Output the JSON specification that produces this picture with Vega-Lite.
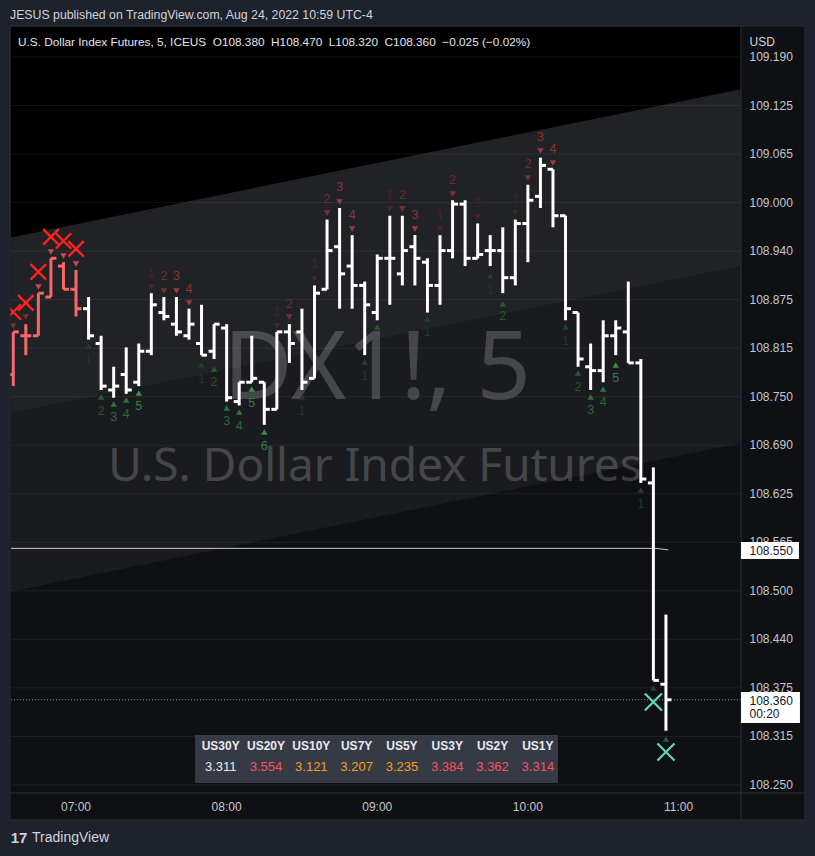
{
"$schema":"https://vega.github.io/schema/vega-lite/v6.json",
"width":730,"height":766,
"autosize":{"type":"none"},
"padding":{"left":11,"top":27,"right":74,"bottom":63},
"background":"#0f1014",
"config":{"view":{"stroke":null},"font":"Liberation Sans"},
"datasets":{
"bars":[
{"t":395,"o":108.780,"h":108.835,"l":108.765,"c":108.835,"s":"sell"},
{"t":400,"o":108.830,"h":108.845,"l":108.805,"c":108.830,"s":"sell"},
{"t":405,"o":108.830,"h":108.885,"l":108.830,"c":108.885,"s":"sell"},
{"t":410,"o":108.880,"h":108.930,"l":108.880,"c":108.930,"s":"sell"},
{"t":415,"o":108.920,"h":108.925,"l":108.890,"c":108.890,"s":"sell"},
{"t":420,"o":108.890,"h":108.915,"l":108.855,"c":108.865,"s":"sell"},
{"t":425,"o":108.865,"h":108.880,"l":108.825,"c":108.830,"s":"none"},
{"t":430,"o":108.820,"h":108.830,"l":108.760,"c":108.765,"s":"none"},
{"t":435,"o":108.760,"h":108.790,"l":108.750,"c":108.765,"s":"none"},
{"t":440,"o":108.780,"h":108.815,"l":108.755,"c":108.760,"s":"none"},
{"t":445,"o":108.770,"h":108.820,"l":108.765,"c":108.810,"s":"none"},
{"t":450,"o":108.810,"h":108.885,"l":108.805,"c":108.870,"s":"none"},
{"t":455,"o":108.860,"h":108.880,"l":108.850,"c":108.855,"s":"none"},
{"t":460,"o":108.845,"h":108.880,"l":108.830,"c":108.835,"s":"none"},
{"t":465,"o":108.830,"h":108.865,"l":108.825,"c":108.845,"s":"none"},
{"t":470,"o":108.820,"h":108.870,"l":108.805,"c":108.805,"s":"none"},
{"t":475,"o":108.810,"h":108.845,"l":108.800,"c":108.845,"s":"none"},
{"t":480,"o":108.840,"h":108.845,"l":108.745,"c":108.750,"s":"none"},
{"t":485,"o":108.745,"h":108.770,"l":108.740,"c":108.770,"s":"none"},
{"t":490,"o":108.770,"h":108.830,"l":108.770,"c":108.775,"s":"none"},
{"t":495,"o":108.770,"h":108.770,"l":108.715,"c":108.735,"s":"none"},
{"t":500,"o":108.735,"h":108.835,"l":108.735,"c":108.835,"s":"none"},
{"t":505,"o":108.835,"h":108.845,"l":108.795,"c":108.820,"s":"none"},
{"t":510,"o":108.835,"h":108.865,"l":108.760,"c":108.770,"s":"none"},
{"t":515,"o":108.775,"h":108.895,"l":108.775,"c":108.885,"s":"none"},
{"t":520,"o":108.890,"h":108.980,"l":108.890,"c":108.940,"s":"none"},
{"t":525,"o":108.945,"h":108.995,"l":108.865,"c":108.910,"s":"none"},
{"t":530,"o":108.920,"h":108.960,"l":108.865,"c":108.895,"s":"none"},
{"t":535,"o":108.895,"h":108.900,"l":108.805,"c":108.870,"s":"none"},
{"t":540,"o":108.860,"h":108.935,"l":108.850,"c":108.930,"s":"none"},
{"t":545,"o":108.930,"h":108.985,"l":108.870,"c":108.930,"s":"none"},
{"t":550,"o":108.910,"h":108.985,"l":108.895,"c":108.940,"s":"none"},
{"t":555,"o":108.945,"h":108.960,"l":108.895,"c":108.930,"s":"none"},
{"t":560,"o":108.925,"h":108.930,"l":108.860,"c":108.895,"s":"none"},
{"t":565,"o":108.895,"h":108.960,"l":108.870,"c":108.940,"s":"none"},
{"t":570,"o":108.940,"h":109.005,"l":108.930,"c":109.000,"s":"none"},
{"t":575,"o":109.000,"h":109.005,"l":108.920,"c":108.930,"s":"none"},
{"t":580,"o":108.930,"h":108.975,"l":108.930,"c":108.935,"s":"none"},
{"t":585,"o":108.940,"h":108.960,"l":108.920,"c":108.940,"s":"none"},
{"t":590,"o":108.940,"h":108.970,"l":108.885,"c":108.905,"s":"none"},
{"t":595,"o":108.905,"h":108.980,"l":108.895,"c":108.975,"s":"none"},
{"t":600,"o":108.975,"h":109.025,"l":108.925,"c":109.005,"s":"none"},
{"t":605,"o":109.010,"h":109.060,"l":108.995,"c":109.050,"s":"none"},
{"t":610,"o":109.045,"h":109.045,"l":108.970,"c":108.985,"s":"none"},
{"t":615,"o":108.985,"h":108.985,"l":108.850,"c":108.865,"s":"none"},
{"t":620,"o":108.860,"h":108.860,"l":108.790,"c":108.800,"s":"none"},
{"t":625,"o":108.790,"h":108.820,"l":108.760,"c":108.785,"s":"none"},
{"t":630,"o":108.785,"h":108.850,"l":108.770,"c":108.830,"s":"none"},
{"t":635,"o":108.830,"h":108.850,"l":108.805,"c":108.840,"s":"none"},
{"t":640,"o":108.835,"h":108.900,"l":108.795,"c":108.795,"s":"none"},
{"t":645,"o":108.795,"h":108.800,"l":108.640,"c":108.645,"s":"none"},
{"t":650,"o":108.640,"h":108.660,"l":108.385,"c":108.385,"s":"none"},
{"t":655,"o":108.380,"h":108.470,"l":108.320,"c":108.360,"s":"none"}
],
"chan":[
{"t":394.1,"up":108.957,"mid":108.7298,"lo":108.4999},
{"t":684.9,"up":109.1484,"mid":108.9199,"lo":108.6913}
],
"grid":[{"g":109.19,"lab":"109.190"},{"g":109.12733,"lab":"109.125"},{"g":109.06467,"lab":"109.065"},{"g":109.002,"lab":"109.000"},{"g":108.93933,"lab":"108.940"},{"g":108.87667,"lab":"108.875"},{"g":108.814,"lab":"108.815"},{"g":108.75133,"lab":"108.750"},{"g":108.68867,"lab":"108.690"},{"g":108.626,"lab":"108.625"},{"g":108.56333,"lab":"108.565"},{"g":108.50067,"lab":"108.500"},{"g":108.438,"lab":"108.440"},{"g":108.37533,"lab":"108.375"},{"g":108.31267,"lab":"108.315"},{"g":108.25,"lab":"108.250"}],
"xlab":[{"t":420,"lab":"07:00"},{"t":480,"lab":"08:00"},{"t":540,"lab":"09:00"},{"t":600,"lab":"10:00"},{"t":660,"lab":"11:00"}],
"sell":[
{"t":395,"tp":108.8427,"n":2},
{"t":400,"tp":108.8543,"n":2},
{"t":405,"tp":108.8930,"n":9},
{"t":410,"tp":108.9382,"n":9},
{"t":415,"tp":108.9330,"n":9},
{"t":420,"tp":108.9227,"n":9},
{"t":450,"tp":108.8930,"np":108.9111,"n":1},
{"t":455,"tp":108.8878,"np":108.9072,"n":2},
{"t":460,"tp":108.8878,"np":108.9072,"n":3},
{"t":465,"tp":108.8724,"np":108.8904,"n":4},
{"t":500,"tp":108.8427,"np":108.8607,"n":1},
{"t":505,"tp":108.8543,"np":108.8711,"n":2},
{"t":515,"tp":108.9033,"np":108.9227,"n":1},
{"t":520,"tp":108.9886,"np":109.0066,"n":2},
{"t":525,"tp":109.0028,"np":109.0221,"n":3},
{"t":530,"tp":108.9679,"np":108.9860,"n":4},
{"t":545,"tp":108.9937,"np":109.0118,"n":1},
{"t":550,"tp":108.9937,"np":109.0118,"n":2},
{"t":555,"tp":108.9679,"np":108.9860,"n":3},
{"t":565,"tp":108.9679,"np":108.9860,"n":1},
{"t":570,"tp":109.0131,"np":109.0312,"n":2},
{"t":580,"tp":108.9834,"np":109.0015,"n":1},
{"t":595,"tp":108.9886,"np":109.0066,"n":1},
{"t":600,"tp":109.0338,"np":109.0518,"n":2},
{"t":605,"tp":109.0686,"np":109.0867,"n":3},
{"t":610,"tp":109.0531,"np":109.0712,"n":4}
],
"sellx":[
{"t":395,"xp":108.8607},{"t":400,"xp":108.8724},{"t":405,"xp":108.9124},
{"t":410,"xp":108.9576},{"t":415,"xp":108.9524},{"t":420,"xp":108.9421}
],
"buy":[
{"t":425,"tp":108.8168,"np":108.8000,"n":1},
{"t":430,"tp":108.7510,"np":108.7329,"n":2},
{"t":435,"tp":108.7419,"np":108.7252,"n":3},
{"t":440,"tp":108.7471,"np":108.7290,"n":4},
{"t":445,"tp":108.7561,"np":108.7394,"n":5},
{"t":470,"tp":108.7923,"np":108.7742,"n":1},
{"t":475,"tp":108.7871,"np":108.7703,"n":2},
{"t":480,"tp":108.7368,"np":108.7200,"n":3},
{"t":485,"tp":108.7316,"np":108.7135,"n":4},
{"t":490,"tp":108.7613,"np":108.7432,"n":5},
{"t":495,"tp":108.7058,"np":108.6877,"n":6},
{"t":510,"tp":108.7510,"np":108.7329,"n":1},
{"t":535,"tp":108.7962,"np":108.7781,"n":1},
{"t":540,"tp":108.8414,"np":108.8233,"n":2},
{"t":560,"tp":108.8517,"np":108.8349,"n":1},
{"t":585,"tp":108.9072,"np":108.8891,"n":1},
{"t":590,"tp":108.8711,"np":108.8556,"n":2},
{"t":615,"tp":108.8414,"np":108.8233,"n":1},
{"t":620,"tp":108.7820,"np":108.7639,"n":2},
{"t":625,"tp":108.7510,"np":108.7342,"n":3},
{"t":630,"tp":108.7613,"np":108.7445,"n":4},
{"t":635,"tp":108.7923,"np":108.7755,"n":5},
{"t":645,"tp":108.6309,"np":108.6128,"n":1},
{"t":650,"tp":108.3752,"n":1},
{"t":655,"tp":108.3094,"n":2}
],
"buyx":[{"t":650,"xp":108.3571},{"t":655,"xp":108.2926}],
"hline":[{"t":394.1,"p":108.5555},{"t":651,"p":108.5555},{"t":656,"p":108.5535}],
"yields":[
{"k":0,"name":"US30Y","val":3.311,"tone":"flat"},
{"k":1,"name":"US20Y","val":3.554,"tone":"up"},
{"k":2,"name":"US10Y","val":3.121,"tone":"mid"},
{"k":3,"name":"US7Y","val":3.207,"tone":"mid"},
{"k":4,"name":"US5Y","val":3.235,"tone":"mid"},
{"k":5,"name":"US3Y","val":3.384,"tone":"up"},
{"k":6,"name":"US2Y","val":3.362,"tone":"up"},
{"k":7,"name":"US1Y","val":3.314,"tone":"up"}
]
},
"resolve":{"scale":{"x":"independent","y":"independent"}},
"layer":[
{"layer":[
{"data":{"name":"chan"},"mark":{"type":"area","color":"#000000","opacity":1},
 "encoding":{
  "x":{"field":"t","type":"quantitative","scale":{"domain":[394.1,684.9],"nice":false,"zero":false},"axis":null},
  "y":{"field":"up","type":"quantitative","scale":{"domain":[108.2396,109.2287],"nice":false,"zero":false},"axis":null},
  "y2":{"datum":109.2287}}},
{"data":{"name":"chan"},"mark":{"type":"area","color":"#212226","opacity":1},
 "encoding":{"x":{"field":"t","type":"quantitative","axis":null},"y":{"field":"mid","type":"quantitative","axis":null},"y2":{"field":"up"}}},
{"data":{"name":"chan"},"mark":{"type":"area","color":"#1a1b1f","opacity":1},
 "encoding":{"x":{"field":"t","type":"quantitative","axis":null},"y":{"field":"lo","type":"quantitative","axis":null},"y2":{"field":"mid"}}},
{"data":{"name":"grid"},"mark":{"type":"rule","color":"#ffffff","opacity":0.065,"strokeWidth":1},
 "encoding":{"y":{"field":"g","type":"quantitative","axis":null}}},
{"data":{"values":[{}]},"mark":{"type":"text","text":"DX1!, 5","font":"Noto Sans","fontSize":95,"align":"center","baseline":"alphabetic","color":"#ffffff","opacity":0.19},
 "encoding":{"x":{"datum":539.9,"type":"quantitative","axis":null},"y":{"datum":108.7489,"type":"quantitative","axis":null}}},
{"data":{"values":[{}]},"mark":{"type":"text","text":"U.S. Dollar Index Futures","font":"Noto Sans","fontSize":46,"align":"center","baseline":"alphabetic","color":"#ffffff","opacity":0.19},
 "encoding":{"x":{"datum":539.1,"type":"quantitative","axis":null},"y":{"datum":108.6425,"type":"quantitative","axis":null}}},
{"data":{"name":"hline"},"mark":{"type":"line","color":"#c8cad0","strokeWidth":1},
 "encoding":{"x":{"field":"t","type":"quantitative","axis":null},"y":{"field":"p","type":"quantitative","axis":null}}},
{"data":{"values":[{}]},"mark":{"type":"rule","color":"#8a8d96","strokeWidth":1,"strokeDash":[1,2]},
 "encoding":{"x":{"datum":394.1,"type":"quantitative","axis":null},"x2":{"datum":684.9},"y":{"datum":108.36,"type":"quantitative","axis":null}}},
{"data":{"name":"bars"},"mark":{"type":"rule","strokeWidth":3},
 "encoding":{"x":{"field":"t","type":"quantitative","axis":null},"y":{"field":"h","type":"quantitative","axis":null},"y2":{"field":"l"},
  "color":{"condition":{"test":"datum.s === 'sell'","value":"#f7686b"},"value":"#ffffff"}}},
{"data":{"name":"bars"},"mark":{"type":"rule","strokeWidth":3,"xOffset":-5.5,"x2Offset":0},
 "encoding":{"x":{"field":"t","type":"quantitative","axis":null},"x2":{"field":"t"},"y":{"field":"o","type":"quantitative","axis":null},
  "color":{"condition":{"test":"datum.s === 'sell'","value":"#f7686b"},"value":"#ffffff"}}},
{"data":{"name":"bars"},"mark":{"type":"rule","strokeWidth":3,"xOffset":0,"x2Offset":5.5},
 "encoding":{"x":{"field":"t","type":"quantitative","axis":null},"x2":{"field":"t"},"y":{"field":"c","type":"quantitative","axis":null},
  "color":{"condition":{"test":"datum.s === 'sell'","value":"#f7686b"},"value":"#ffffff"}}},
{"data":{"name":"sell"},"mark":{"type":"point","shape":"triangle-down","filled":true,"size":42,"opacity":1},
 "encoding":{"x":{"field":"t","type":"quantitative","axis":null},"y":{"field":"tp","type":"quantitative","axis":null},
  "color":{"condition":[{"test":"datum.n == 1","value":"#4f2428"},{"test":"datum.n == 2","value":"#7b3133"},{"test":"datum.n >= 7","value":"#c94b4d"}],"value":"#9a3a3c"}}},
{"data":{"name":"sell"},"transform":[{"filter":"isValid(datum.np)"}],"mark":{"type":"text","fontSize":12.5,"align":"center","baseline":"middle"},
 "encoding":{"x":{"field":"t","type":"quantitative","axis":null},"y":{"field":"np","type":"quantitative","axis":null},"text":{"field":"n","type":"nominal"},
  "color":{"condition":[{"test":"datum.n == 1","value":"#4a2226"},{"test":"datum.n == 2","value":"#6e2d2f"}],"value":"#8a3536"}}},
{"data":{"name":"sellx"},"mark":{"type":"point","shape":"M-1,-1L1,1M-1,1L1,-1","filled":false,"size":240,"strokeWidth":2.4,"color":"#ff2020","opacity":1},
 "encoding":{"x":{"field":"t","type":"quantitative","axis":null},"y":{"field":"xp","type":"quantitative","axis":null}}},
{"data":{"name":"buy"},"mark":{"type":"point","shape":"triangle-up","filled":true,"size":42,"opacity":1},
 "encoding":{"x":{"field":"t","type":"quantitative","axis":null},"y":{"field":"tp","type":"quantitative","axis":null},
  "color":{"condition":[{"test":"datum.n == 1","value":"#1f4126"},{"test":"datum.n == 2","value":"#2b5a31"},{"test":"datum.n <= 4","value":"#2f743a"}],"value":"#3a9146"}}},
{"data":{"name":"buy"},"transform":[{"filter":"isValid(datum.np)"}],"mark":{"type":"text","fontSize":12.5,"align":"center","baseline":"middle"},
 "encoding":{"x":{"field":"t","type":"quantitative","axis":null},"y":{"field":"np","type":"quantitative","axis":null},"text":{"field":"n","type":"nominal"},
  "color":{"condition":[{"test":"datum.n == 1","value":"#1c3b22"},{"test":"datum.n == 2","value":"#27522d"},{"test":"datum.n <= 4","value":"#2a6734"}],"value":"#347f3f"}}},
{"data":{"name":"buyx"},"mark":{"type":"point","shape":"M-1,-1L1,1M-1,1L1,-1","filled":false,"size":290,"strokeWidth":2.2,"color":"#5fd9b6","opacity":1},
 "encoding":{"x":{"field":"t","type":"quantitative","axis":null},"y":{"field":"xp","type":"quantitative","axis":null}}},
{"data":{"values":[{}]},"mark":{"type":"rect","color":"#1e222d"},
 "encoding":{"x":{"datum":389.72,"type":"quantitative","axis":null},"x2":{"datum":714.38},"y":{"datum":109.2636,"type":"quantitative","axis":null},"y2":{"datum":109.23}}},
{"data":{"values":[{}]},"mark":{"type":"rect","color":"#1e222d"},
 "encoding":{"x":{"datum":389.72,"type":"quantitative","axis":null},"x2":{"datum":714.38},"y":{"datum":108.2048,"type":"quantitative","axis":null},"y2":{"datum":108.1583}}},
{"data":{"values":[{}]},"mark":{"type":"rect","color":"#1e222d"},
 "encoding":{"x":{"datum":389.72,"type":"quantitative","axis":null},"x2":{"datum":393.7},"y":{"datum":109.2636,"type":"quantitative","axis":null},"y2":{"datum":108.1583}}},
{"data":{"values":[{}]},"mark":{"type":"rect","color":"#1e222d"},
 "encoding":{"x":{"datum":710.4,"type":"quantitative","axis":null},"x2":{"datum":714.38},"y":{"datum":109.2636,"type":"quantitative","axis":null},"y2":{"datum":108.1583}}},
{"data":{"values":[{}]},"mark":{"type":"rect","fillOpacity":0,"stroke":"#2a2e39","strokeWidth":1},
 "encoding":{"x":{"datum":393.7,"type":"quantitative","axis":null},"x2":{"datum":710.4},"y":{"datum":109.23,"type":"quantitative","axis":null},"y2":{"datum":108.2048}}},
{"data":{"values":[{}]},"mark":{"type":"rule","color":"#2a2e39","strokeWidth":1},
 "encoding":{"x":{"datum":684.9,"type":"quantitative","axis":null},"y":{"datum":109.23,"type":"quantitative","axis":null},"y2":{"datum":108.2048}}},
{"data":{"values":[{}]},"mark":{"type":"rule","color":"#2a2e39","strokeWidth":1},
 "encoding":{"x":{"datum":393.7,"type":"quantitative","axis":null},"x2":{"datum":710.4},"y":{"datum":108.2396,"type":"quantitative","axis":null}}},
{"data":{"name":"grid"},"mark":{"type":"text","fontSize":12,"align":"left","baseline":"middle","color":"#c3c6ce"},
 "encoding":{"x":{"datum":688.29,"type":"quantitative","axis":null},"y":{"field":"g","type":"quantitative","axis":null},"text":{"field":"lab","type":"nominal"}}},
{"data":{"name":"xlab"},"mark":{"type":"text","fontSize":12,"align":"center","baseline":"middle","color":"#c3c6ce"},
 "encoding":{"x":{"field":"t","type":"quantitative","axis":null},"y":{"datum":108.2216,"type":"quantitative","axis":null},"text":{"field":"lab","type":"nominal"}}},
{"data":{"values":[{}]},"mark":{"type":"text","text":"JESUS published on TradingView.com, Aug 24, 2022 10:59 UTC-4","fontSize":12.3,"align":"left","baseline":"middle","color":"#d1d4dc"},
 "encoding":{"x":{"datum":393.7,"type":"quantitative","axis":null},"y":{"datum":109.2442,"type":"quantitative","axis":null}}},
{"data":{"values":[{}]},"mark":{"type":"text","text":"U.S. Dollar Index Futures, 5, ICEUS\u00a0\u00a0O108.380\u00a0\u00a0H108.470\u00a0\u00a0L108.320\u00a0\u00a0C108.360\u00a0\u00a0−0.025 (−0.02%)","fontSize":11.8,"align":"left","baseline":"middle","color":"#e0e3eb"},
 "encoding":{"x":{"datum":396.89,"type":"quantitative","axis":null},"y":{"datum":109.2094,"type":"quantitative","axis":null}}},
{"data":{"values":[{}]},"mark":{"type":"text","text":"USD","fontSize":12,"align":"left","baseline":"middle","color":"#d1d4dc"},
 "encoding":{"x":{"datum":688.29,"type":"quantitative","axis":null},"y":{"datum":109.2094,"type":"quantitative","axis":null}}},
{"data":{"values":[{}]},"mark":{"type":"text","text":"17","fontSize":15,"fontWeight":"bold","align":"left","baseline":"middle","color":"#d1d4dc"},
 "encoding":{"x":{"datum":394.0,"type":"quantitative","axis":null},"y":{"datum":108.1815,"type":"quantitative","axis":null}}},
{"data":{"values":[{}]},"mark":{"type":"text","text":"TradingView","fontSize":14,"align":"left","baseline":"middle","color":"#d1d4dc"},
 "encoding":{"x":{"datum":402.47,"type":"quantitative","axis":null},"y":{"datum":108.1815,"type":"quantitative","axis":null}}},
{"data":{"values":[{}]},"mark":{"type":"rect","color":"#ffffff"},
 "encoding":{"x":{"datum":684.9,"type":"quantitative","axis":null},"x2":{"datum":707.99},"y":{"datum":108.5637,"type":"quantitative","axis":null},"y2":{"datum":108.5417}}},
{"data":{"values":[{}]},"mark":{"type":"text","text":"108.550","fontSize":12,"align":"left","baseline":"middle","color":"#131722"},
 "encoding":{"x":{"datum":688.29,"type":"quantitative","axis":null},"y":{"datum":108.5527,"type":"quantitative","axis":null}}},
{"data":{"values":[{}]},"mark":{"type":"rect","color":"#ffffff"},
 "encoding":{"x":{"datum":684.9,"type":"quantitative","axis":null},"x2":{"datum":708.38},"y":{"datum":108.37,"type":"quantitative","axis":null},"y2":{"datum":108.33}}},
{"data":{"values":[{}]},"mark":{"type":"text","text":"108.360","fontSize":12,"align":"left","baseline":"middle","color":"#131722"},
 "encoding":{"x":{"datum":688.29,"type":"quantitative","axis":null},"y":{"datum":108.3588,"type":"quantitative","axis":null}}},
{"data":{"values":[{}]},"mark":{"type":"text","text":"00:20","fontSize":12,"align":"left","baseline":"middle","color":"#131722"},
 "encoding":{"x":{"datum":688.29,"type":"quantitative","axis":null},"y":{"datum":108.3417,"type":"quantitative","axis":null}}}
]},
{"layer":[
{"data":{"values":[{}]},"mark":{"type":"rect","color":"#363a45"},
 "encoding":{"x":{"datum":-0.567,"type":"quantitative","scale":{"domain":[-4.628,11.483],"nice":false,"zero":false},"axis":null},"x2":{"datum":7.444},
  "y":{"datum":-0.524,"type":"quantitative","scale":{"domain":[-34.238,2.238],"nice":false,"zero":false,"reverse":true},"axis":null},"y2":{"datum":1.762}}},
{"data":{"name":"yields"},"mark":{"type":"text","fontSize":12,"fontWeight":"bold","align":"center","baseline":"middle","color":"#e8eaef"},
 "encoding":{"x":{"field":"k","type":"quantitative","axis":null},"y":{"datum":0,"type":"quantitative","axis":null},"text":{"field":"name","type":"nominal"}}},
{"data":{"name":"yields"},"mark":{"type":"text","fontSize":13,"align":"center","baseline":"middle"},
 "encoding":{"x":{"field":"k","type":"quantitative","axis":null},"y":{"datum":1,"type":"quantitative","axis":null},"text":{"field":"val","type":"quantitative","format":".3f"},
  "color":{"condition":[{"test":"datum.tone === 'up'","value":"#f7525f"},{"test":"datum.tone === 'mid'","value":"#f59e1b"}],"value":"#e8eaef"}}}
]}
]
}
